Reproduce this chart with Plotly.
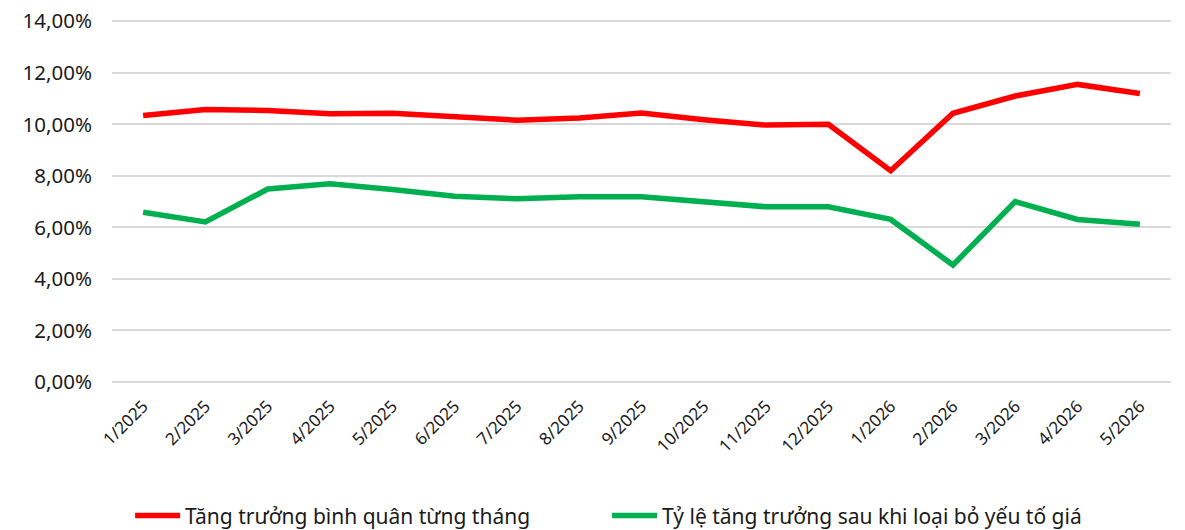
import plotly.graph_objects as go

months = ["1/2025", "2/2025", "3/2025", "4/2025", "5/2025", "6/2025", "7/2025",
          "8/2025", "9/2025", "10/2025", "11/2025", "12/2025", "1/2026", "2/2026",
          "3/2026", "4/2026", "5/2026"]

avg_growth = [10.34, 10.58, 10.54, 10.41, 10.43, 10.28, 10.16, 10.25, 10.44, 10.18,
              9.97, 10.00, 8.20, 10.43, 11.10, 11.55, 11.20]
real_growth = [6.59, 6.21, 7.49, 7.69, 7.47, 7.21, 7.11, 7.19, 7.19, 7.00,
               6.80, 6.80, 6.31, 4.54, 7.00, 6.31, 6.12]

name_avg = "Tăng trưởng bình quân từng tháng"
name_real = "Tỷ lệ tăng trưởng sau khi loại bỏ yếu tố giá"

FONT = "Noto Sans"

fig = go.Figure()
fig.add_trace(go.Scatter(x=months, y=avg_growth, mode="lines",
                         name=name_avg, line=dict(color="#ff0000", width=5.5)))
fig.add_trace(go.Scatter(x=months, y=real_growth, mode="lines",
                         name=name_real, line=dict(color="#00b050", width=5.5)))

fig.update_layout(
    width=1177, height=522,
    margin=dict(l=104, r=14, t=12, b=148, autoexpand=False),
    paper_bgcolor="white", plot_bgcolor="white",
    separators=",.",
    font=dict(family=FONT, size=19, color="#1a1a1a"),
    showlegend=True,
    legend=dict(orientation="h", xref="container", x=0.509, xanchor="center",
                yref="container", y=0.027, yanchor="middle",
                entrywidth=417, itemwidth=45,
                font=dict(size=21, family=FONT)),
)
fig.update_xaxes(type="category", tickangle=-45, showgrid=False, showline=False,
                 ticks="", tickfont=dict(size=17), range=[-0.5, 16.5],
                 automargin=False, ticklabelstandoff=10)
fig.update_yaxes(range=[0, 14.05], dtick=2, tick0=0, tickformat=".2f", ticksuffix="%",
                 showgrid=True, gridcolor="#d9d9d9", gridwidth=1.5, zeroline=True,
                 zerolinecolor="#d9d9d9", zerolinewidth=1.5, showline=False,
                 ticks="", tickfont=dict(size=20.5), ticklabelstandoff=19,
                 ticklabeloverflow="allow", automargin=False)

fig.write_html("out.html")
